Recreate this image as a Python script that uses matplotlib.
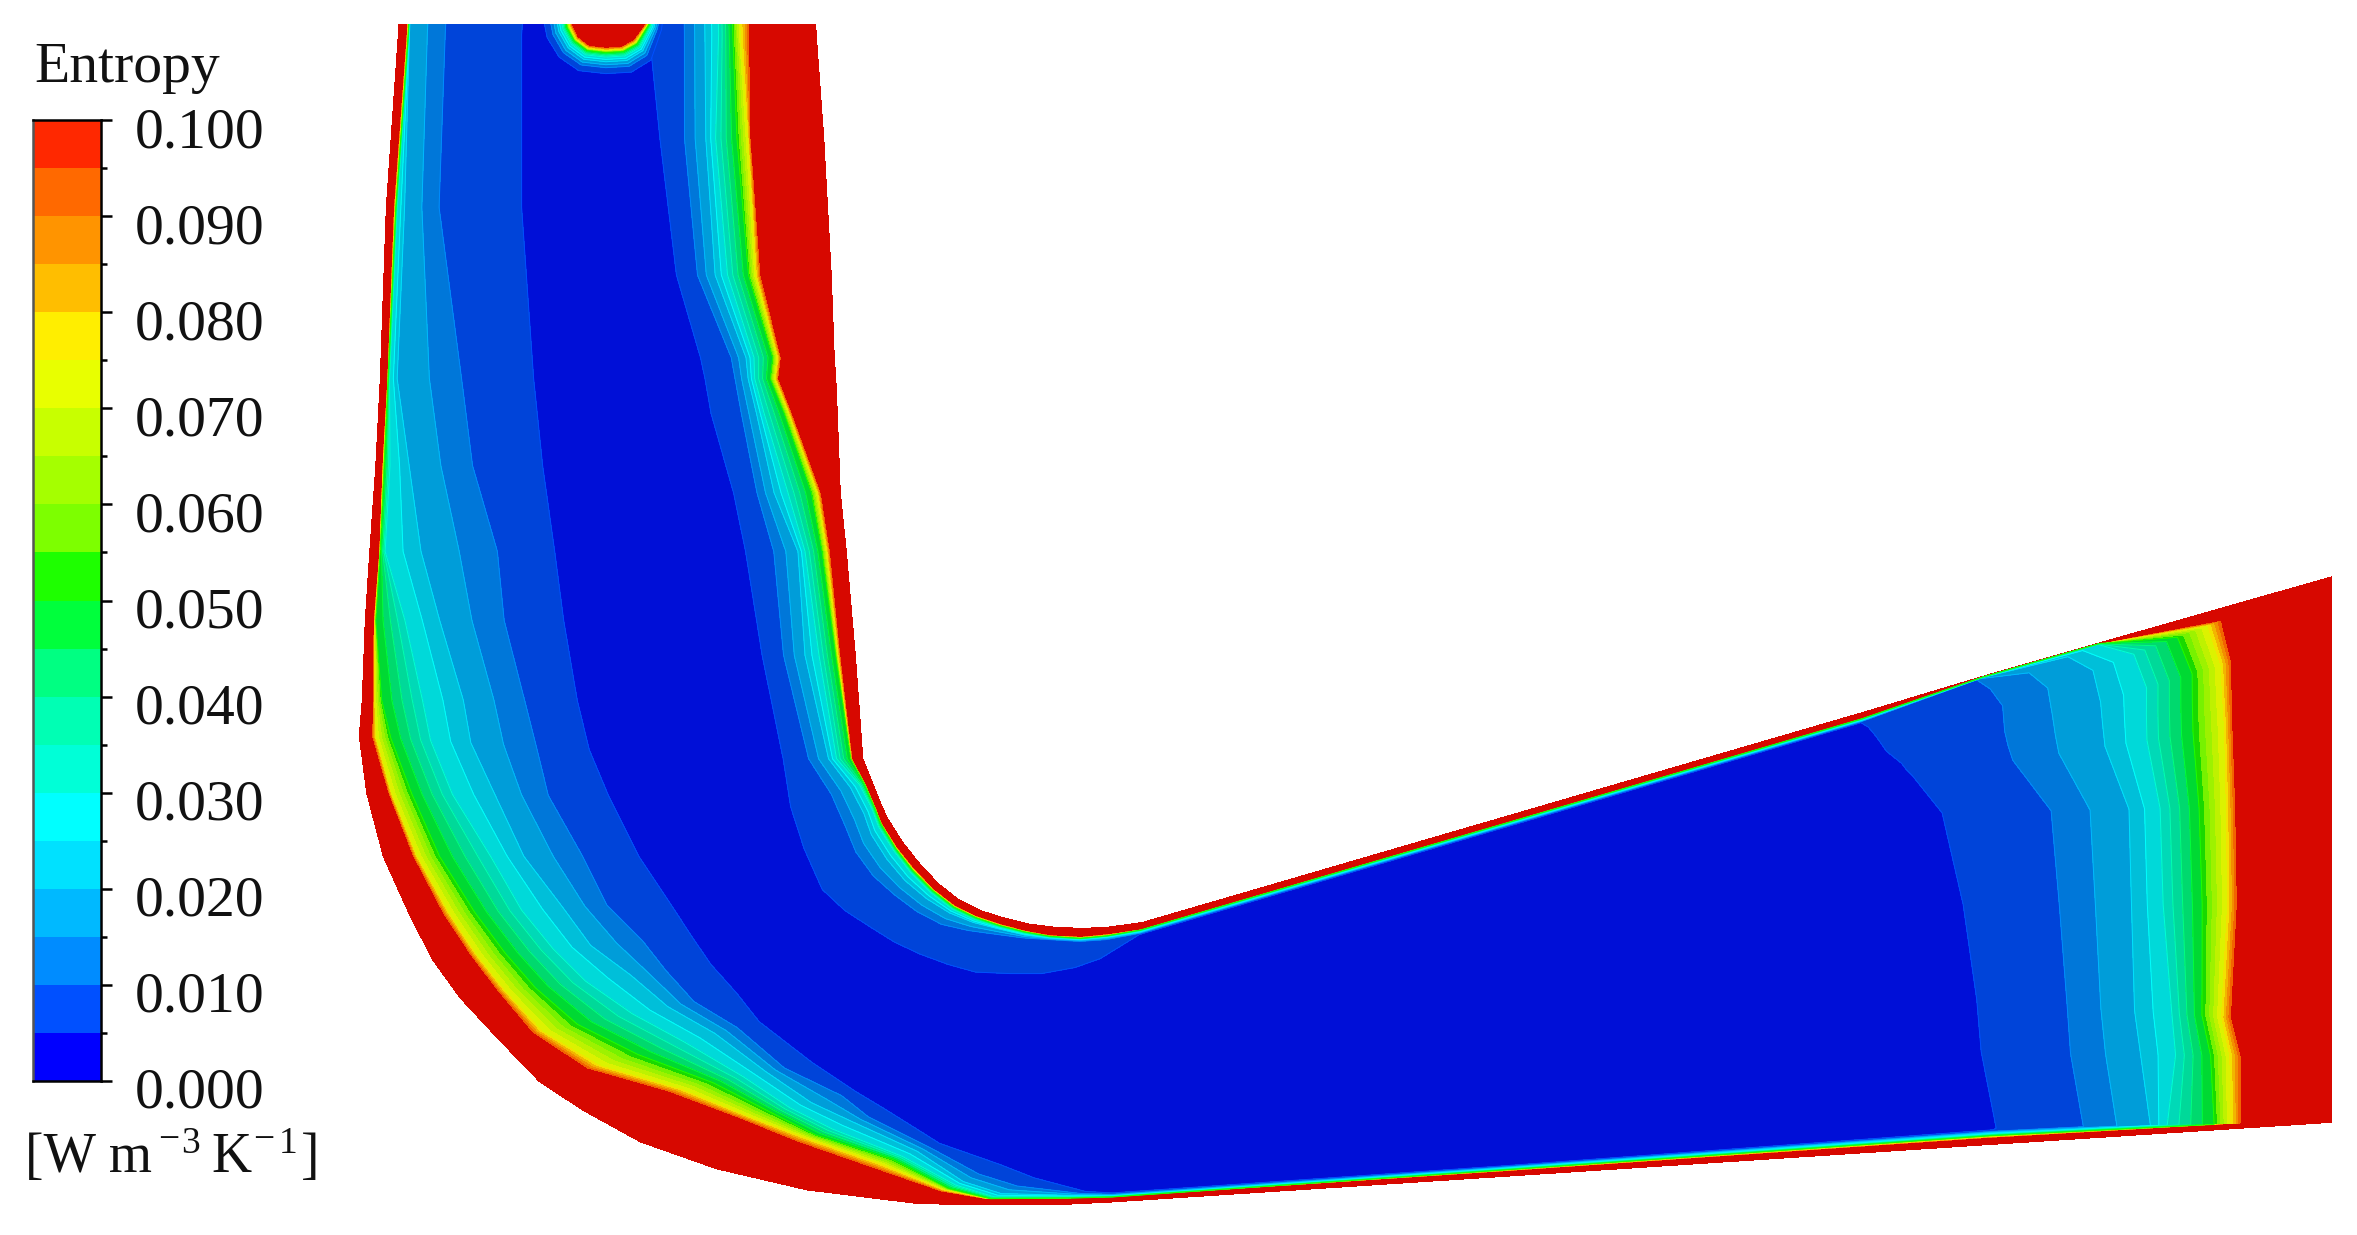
import numpy as np
import matplotlib
matplotlib.use("Agg")
import matplotlib.pyplot as plt
from matplotlib.colors import ListedColormap
from matplotlib.patches import Rectangle
from matplotlib.transforms import ScaledTranslation

plt.rcParams['font.family'] = ['Liberation Serif', 'DejaVu Serif']

# legend values, bottom band first
levels = [0.000, 0.005, 0.010, 0.015, 0.020, 0.025, 0.030, 0.035, 0.040, 0.045, 0.050,
          0.055, 0.060, 0.065, 0.070, 0.075, 0.080, 0.085, 0.090, 0.095, 0.100]
band_colors = [(0, 0, 255), (0, 80, 255), (0, 140, 255), (0, 185, 255), (0, 225, 255),
               (0, 255, 255), (0, 255, 215), (0, 255, 180), (0, 255, 130), (0, 255, 60),
               (30, 255, 0), (125, 255, 0), (165, 255, 0), (200, 255, 0), (232, 255, 0),
               (255, 238, 0), (255, 190, 0), (255, 148, 0), (255, 105, 0), (255, 40, 0)]
tick_values = [0.000, 0.010, 0.020, 0.030, 0.040, 0.050, 0.060, 0.070, 0.080, 0.090, 0.100]

# duct wall, clockwise from the top left
wall_x = [267, 265, 257, 253, 250, 246, 243, 241, 239, 244, 255, 273, 288, 306, 332, 359, 388, 426, 477, 537,
          610, 650, 700, 740, 1000, 1320, 1551, 1551, 1551, 1551, 1551, 1551, 1551, 1551, 1551, 1400, 1323, 1240,
          1000, 760, 738, 720, 700, 684, 668, 652, 638, 624, 611, 600, 590, 586, 580, 574,
          569, 563, 559, 557, 556, 555, 553, 548, 543, 540]
wall_y = [-30, 23, 138, 252, 310, 367, 413, 466, 490, 528, 570, 610, 639, 664, 692, 720, 739, 760, 778, 792,
          801, 802, 802, 800, 783, 762, 747, 704, 682, 602, 536, 474, 447, 420, 384, 427, 449, 474,
          544, 614, 617, 618, 617, 615, 611, 606, 599, 588, 574, 560, 544, 535, 520, 505,
          436, 367, 328, 275, 252, 238, 183, 92, 23, -30]

# edge of the dark blue core (0.005) seen from the same stations
core_x = [351, 347, 347, 355, 361, 369, 375, 384, 392, 405, 425, 445, 460, 473, 490, 505, 540, 570, 590, 625,
          665, 688, 722, 740, 1000, 1326, 1328, 1318, 1315, 1306, 1292, 1272, 1268, 1265, 1255, 1248, 1243, 1238,
          1000, 758, 732, 715, 693, 672, 649, 631, 612, 595, 579, 562, 547, 535, 526, 521,
          507, 496, 488, 473, 469, 466, 450, 439, 432, 432]
core_y = [-30, 23, 138, 252, 310, 367, 413, 466, 499, 530, 570, 600, 623, 642, 661, 680, 707, 727, 739, 761,
          775, 784, 793, 794, 776, 752, 751, 700, 665, 602, 541, 516, 512, 508, 500, 490, 484, 481,
          551, 622, 638, 644, 648, 648, 647, 642, 635, 627, 617, 606, 592, 565, 537, 505,
          436, 367, 328, 275, 252, 238, 183, 92, 23, -30]

# where each level sits between wall (0) and core (1)
frac_100 = [.06, .06, .05, .04, .035, .047, .038, .046, .05, .084, .11, .12, .14, .145, .13, .2, .36, .45, .45, .46,
            .28, .18, .42, .45, .4, .4, .26, .25, .275, .249, .24, .23, .228, .226, .24, .012, .03, .5,
            .5, .5, .2, .19, .16, .12, .1, .09, .09, .085, .08, .075, .07, .06, .07, .12,
            .15, .15, .17, .35, .43, .39, .447, .44, .387, .387]
frac_075 = [.07, .07, .06, .045, .04, .05, .045, .056, .07, .1, .13, .15, .17, .18, .18, .27, .43, .5, .52, .55,
            .33, .2, .46, .5, .5, .5, .3, .29, .31, .282, .27, .255, .256, .257, .278, .015, .035, .56,
            .56, .56, .24, .22, .18, .14, .12, .11, .11, .1, .1, .09, .08, .07, .08, .14,
            .18, .19, .21, .38, .46, .42, .485, .46, .45, .45]
frac_050 = [.08, .08, .07, .05, .05, .056, .053, .09, .137, .186, .22, .25, .28, .3, .33, .45, .57, .6, .58, .65,
            .38, .23, .5, .55, .6, .6, .35, .345, .365, .351, .34, .33, .327, .324, .346, .02, .04, .62,
            .62, .62, .28, .25, .2, .16, .14, .13, .13, .12, .12, .105, .09, .08, .09, .15,
            .21, .24, .27, .42, .5, .46, .534, .53, .5, .5]
frac_030 = [.085, .085, .08, .06, .085, .083, .2, .28, .31, .354, .42, .43, .465, .5, .56, .66, .7, .69, .68, .72,
            .47, .3, .6, .62, .7, .7, .49, .445, .45, .457, .44, .44, .435, .43, .444, .03, .05, .7,
            .7, .7, .3, .27, .22, .19, .17, .17, .17, .16, .16, .14, .13, .115, .15, .33,
            .39, .41, .49, .58, .62, .6, .67, .66, .585, .585]
frac_020 = [.09, .09, .135, .11, .2, .277, .375, .47, .485, .53, .55, .59, .61, .68, .71, .8, .8, .79, .8, .83,
            .56, .42, .7, .7, .8, .8, .54, .545, .555, .543, .52, .54, .538, .537, .536, .16, .06, .8,
            .8, .8, .34, .29, .24, .22, .2, .22, .24, .26, .28, .26, .24, .22, .26, .43,
            .54, .48, .62, .64, .67, .66, .75, .72, .667, .667]
frac_010 = [.38, .38, .39, .53, .58, .69, .7, .755, .77, .75, .78, .76, .81, .82, .82, .9, .88, .93, .89, .92,
            .75, .7, .85, .85, .9, .9, .74, .745, .745, .739, .72, .76, .76, .76, .739, .5, .1, .9,
            .9, .9, .4, .33, .27, .28, .3, .37, .45, .48, .5, .5, .48, .47, .5, .68,
            .77, .72, .78, .76, .77, .77, .864, .85, .79, .79]

# red spot at the top of the duct, spokes from its centre
spot_cx = [403, 403, 403, 403, 403, 403, 403, 403, 403]
spot_cy = [5, 5, 5, 5, 5, 5, 5, 5, 5]
spot_x = [360, 364, 372, 385, 403, 420, 433, 440, 442]
spot_y = [5, 25, 38, 47, 49, 48, 40, 20, 5]
spot_100 = [.55, .56, .58, .59, .59, .59, .60, .70, .72]
spot_075 = [.60, .61, .63, .64, .64, .64, .65, .74, .76]
spot_050 = [.65, .66, .67, .68, .68, .68, .69, .77, .79]
spot_030 = [.72, .73, .74, .75, .75, .75, .76, .82, .83]
spot_020 = [.80, .80, .81, .82, .82, .82, .82, .87, .88]
spot_010 = [.90, .90, .91, .91, .91, .91, .91, .93, .94]

ring_levels = [0.13, 0.100, 0.075, 0.050, 0.030, 0.020, 0.010, 0.005]


def band_mesh(x0, y0, x1, y1, fracs):
    """Mesh of stations x rings, with the level of each ring as z"""
    x0, y0, x1, y1 = [np.array(a, dtype=float) for a in (x0, y0, x1, y1)]
    t = np.column_stack([np.zeros(len(x0))] + [np.array(f) for f in fracs] + [np.ones(len(x0))])
    x = x0[:, None] + (x1 - x0)[:, None] * t
    y = y0[:, None] + (y1 - y0)[:, None] * t
    z = np.tile(ring_levels, (len(x0), 1))
    return x, y, z


fig = plt.figure(figsize=(23.57, 12.35), dpi=100)
ax = fig.add_axes([0, 0, 1, 1])
ax.set_xlim(0, 1568)
ax.set_ylim(822, 0)
ax.axis('off')

bar_rgb = np.array(band_colors) / 255
# the field is a little darker than the legend, the warm end less so
field_rgb = bar_rgb * 0.85
field_rgb[11:] = bar_rgb[11:] * 0.95
red = (215 / 255, 8 / 255, 0)
dark_blue = (0, 15 / 255, 215 / 255)
field_rgb[0] = dark_blue
field_rgb[-1] = red

view = Rectangle((0, 16), 1568, 806, transform=ax.transData)

duct = ax.fill(wall_x, wall_y, color=dark_blue, lw=0, zorder=1)[0]
duct.set_clip_path(view)

fields = [
    band_mesh(wall_x, wall_y, core_x, core_y,
              [frac_100, frac_075, frac_050, frac_030, frac_020, frac_010]),
    band_mesh(spot_cx, spot_cy, spot_x, spot_y,
              [spot_100, spot_075, spot_050, spot_030, spot_020, spot_010]),
]
for n, (x, y, z) in enumerate(fields):
    cf = ax.contourf(x, y, z, levels=levels[1:] + [0.2], colors=list(field_rgb[1:]) + [red], zorder=2 + n)
    cf.set_clip_path(view)
    cl = ax.contour(x, y, z, levels=levels[1:11], colors=list(bar_rgb[1:11]), linewidths=0.7, zorder=2 + n)
    cl.set_clip_path(view)

# legend bar
cax = fig.add_axes([33 / 2357, 1 - 1081 / 1235, 68 / 2357, 961 / 1235])
cax.pcolormesh([0, 1], levels, np.arange(20).reshape(-1, 1),
               cmap=ListedColormap(bar_rgb), vmin=0, vmax=19)
cax.set_ylim(0, 0.1)
cax.set_xticks([])
cax.yaxis.tick_right()
cax.set_yticks(tick_values)
cax.set_yticklabels([f"{v:.3f}" for v in tick_values], fontsize=41.5, color='#111111')
cax.set_yticks(levels[1::2], minor=True)
cax.tick_params(axis='y', which='major', length=8, width=1.8, pad=16)
cax.tick_params(axis='y', which='minor', length=4.5, width=1.8)
for side in cax.spines.values():
    side.set_linewidth(1.8)
cax.spines['left'].set_color('#555555')
shift = ScaledTranslation(0, -7 / 100, fig.dpi_scale_trans)
for tick in cax.yaxis.get_major_ticks():
    tick.label2.set_transform(tick.label2.get_transform() + shift)


def px_text(x, y, s, size):
    fig.text(x / 2357, 1 - y / 1235, s, fontsize=size, color='#111111', va='baseline', ha='left')


px_text(34, 82, "Entropy", 41.5)
px_text(25, 1172, "[W m", 40)
px_text(158, 1150, "\u2212", 27)
px_text(181, 1153, "3", 27)
px_text(211, 1172, "K", 40)
px_text(253, 1150, "\u2212", 27)
px_text(279, 1153, "1", 27)
px_text(301, 1172, "]", 40)

fig.savefig("out.png", dpi=100)
